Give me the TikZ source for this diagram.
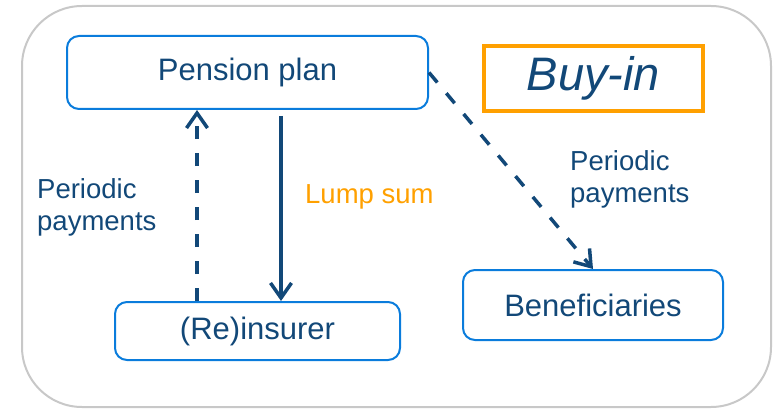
\documentclass[tikz,border=0pt]{standalone}
\usepackage{fontspec}
\setmainfont{Liberation Sans}
\usetikzlibrary{arrows.meta}

\definecolor{boxblue}{RGB}{10,124,220}
\definecolor{inkblue}{RGB}{18,72,120}
\definecolor{sumorange}{RGB}{255,160,0}
\definecolor{framegray}{RGB}{200,200,200}

\tikzset{
  party/.style={draw=boxblue, line width=2pt, rounded corners=12pt, text=inkblue,
    inner sep=0pt, font=\fontsize{31}{37}\selectfont},
  flow/.style={draw=inkblue, line width=3.5pt, -{Straight Barb[length=15pt,width=21pt,line width=3.5pt]}},
  dashflow/.style={flow, dash pattern=on 13pt off 14pt},
  note/.style={text=inkblue, align=left, inner sep=0pt, font=\fontsize{27.5}{32}\selectfont}
}

\begin{document}
\begin{tikzpicture}[x=1pt,y=-1pt]
  \useasboundingbox (0,0) rectangle (773,409);
  % outer frame
  \draw[framegray, line width=2pt, rounded corners=60pt] (22,6) rectangle (771,407);

  \node[party, minimum width=361pt, minimum height=73pt] (plan) at (247.5,72.5) {Pension plan};
  \node[party, minimum width=285pt, minimum height=58pt] (reins) at (257.5,331) {(Re)insurer};
  \node[party, minimum width=260pt, minimum height=70pt] (benef) at (593,305) {Beneficiaries};
  \node[draw=sumorange, line width=3.5pt, text=inkblue, inner sep=0pt,
        minimum width=219pt, minimum height=65pt,
        font=\fontsize{47}{52}\selectfont\itshape] (buyin) at (593.5,78.5) {Buy-in};

  % money and payment flows
  \draw[flow, shorten <=6pt] ([xshift=33.5pt]plan.south) -- ([xshift=33.5pt]plan.south |- reins.north);
  \draw[dashflow] ([xshift=-60.5pt]reins.north) -- ([xshift=-60.5pt]reins.north |- plan.south);
  \draw[dashflow] (plan.east) -- (benef.north);

  \node[note, anchor=west] (pleft) at (37,207) {Periodic\\payments};
  \node[note, anchor=west, text=sumorange] (lump) at (305,197) {Lump sum};
  \node[note, anchor=west] (pright) at (570,179) {Periodic\\payments};
\end{tikzpicture}
\end{document}
